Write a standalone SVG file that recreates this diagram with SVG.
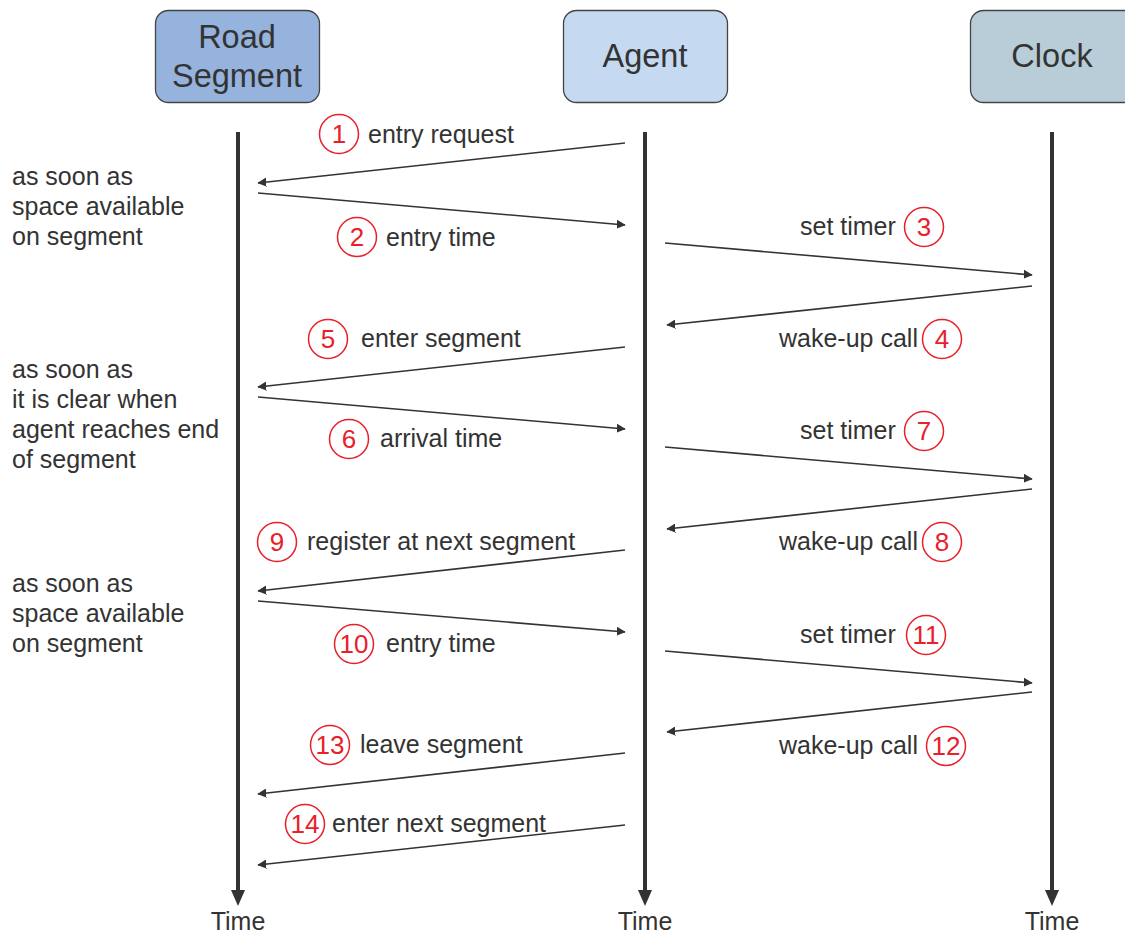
<svg xmlns="http://www.w3.org/2000/svg" width="1125" height="934" viewBox="0 0 1125 934">
<style>
.t{font-family:"Liberation Sans",Arial,sans-serif;font-size:25px;fill:#333}
.h{font-family:"Liberation Sans",Arial,sans-serif;font-size:32.5px;fill:#333;text-anchor:middle}
.n{font-family:"Liberation Sans",Arial,sans-serif;font-size:26px;fill:#e8202a;text-anchor:middle}
.c{fill:#fff;stroke:#e8202a;stroke-width:1.5}
.life{stroke:#333;stroke-width:4;fill:none}
.msg{stroke:#333;stroke-width:1.6;fill:none;marker-end:url(#a)}
.box{stroke:#444;stroke-width:1.3}
</style>
<defs>
<marker id="a" viewBox="0 0 10 10" refX="9" refY="5" markerWidth="9" markerHeight="9" markerUnits="userSpaceOnUse" orient="auto"><path d="M0,0L10,5L0,10z" fill="#333" transform="scale(1.4) translate(-3,-1.45)"/></marker>
</defs>
<g id="road-segment">
<rect class="box" x="155.5" y="10.5" width="164" height="92" rx="13" fill="#95b3dd"/>
<text class="h" x="237" y="48">Road</text>
<text class="h" x="237" y="87">Segment</text>
</g>
<g id="agent">
<rect class="box" x="563.5" y="10.5" width="164" height="92" rx="13" fill="#c5daf1"/>
<text class="h" x="645" y="67">Agent</text>
</g>
<g id="clock">
<rect class="box" x="970.5" y="10.5" width="170" height="92" rx="13" fill="#b9cdd8"/>
<text class="h" x="1052" y="67">Clock</text>
</g>
<g id="lifelines">
<line class="life" x1="238" y1="132" x2="238" y2="890"/>
<path d="M231,890L245,890L238,906z" fill="#333"/>
<line class="life" x1="645" y1="132" x2="645" y2="890"/>
<path d="M638,890L652,890L645,906z" fill="#333"/>
<line class="life" x1="1052" y1="132" x2="1052" y2="890"/>
<path d="M1045,890L1059,890L1052,906z" fill="#333"/>
<text class="t" x="238" y="930" text-anchor="middle">Time</text>
<text class="t" x="645" y="930" text-anchor="middle">Time</text>
<text class="t" x="1052" y="930" text-anchor="middle">Time</text>
</g>
<g id="connectors">
<line class="msg" x1="625" y1="143" x2="258" y2="183"/>
<line class="msg" x1="258" y1="193" x2="625" y2="225"/>
<line class="msg" x1="665" y1="243" x2="1032" y2="275"/>
<line class="msg" x1="1032" y1="286" x2="667" y2="325"/>
<line class="msg" x1="625" y1="347" x2="258" y2="387"/>
<line class="msg" x1="258" y1="397" x2="625" y2="429"/>
<line class="msg" x1="665" y1="447" x2="1032" y2="479"/>
<line class="msg" x1="1032" y1="489" x2="667" y2="529"/>
<line class="msg" x1="625" y1="550" x2="258" y2="591"/>
<line class="msg" x1="258" y1="601" x2="625" y2="632"/>
<line class="msg" x1="665" y1="651" x2="1032" y2="683"/>
<line class="msg" x1="1032" y1="692" x2="667" y2="732"/>
<line class="msg" x1="625" y1="753" x2="258" y2="794"/>
<line class="msg" x1="625" y1="825" x2="258" y2="865"/>
</g>
<g id="labels">
<circle class="c" cx="339" cy="134" r="19.5"/><text class="n" x="339" y="143">1</text>
<text class="t" x="368" y="143">entry request</text>
<circle class="c" cx="357" cy="237" r="19.5"/><text class="n" x="357" y="246">2</text>
<text class="t" x="386" y="246">entry time</text>
<text class="t" x="800" y="235">set timer</text>
<circle class="c" cx="924" cy="227" r="19.5"/><text class="n" x="924" y="236">3</text>
<text class="t" x="779" y="347">wake-up call</text>
<circle class="c" cx="942" cy="339" r="19.5"/><text class="n" x="942" y="348">4</text>
<circle class="c" cx="328" cy="339" r="19.5"/><text class="n" x="328" y="348">5</text>
<text class="t" x="361" y="347">enter segment</text>
<circle class="c" cx="349" cy="439" r="19.5"/><text class="n" x="349" y="448">6</text>
<text class="t" x="380" y="447">arrival time</text>
<text class="t" x="800" y="439">set timer</text>
<circle class="c" cx="924" cy="431" r="19.5"/><text class="n" x="924" y="440">7</text>
<text class="t" x="779" y="550">wake-up call</text>
<circle class="c" cx="942" cy="542" r="19.5"/><text class="n" x="942" y="551">8</text>
<circle class="c" cx="277" cy="542" r="19.5"/><text class="n" x="277" y="551">9</text>
<text class="t" x="307" y="550">register at next segment</text>
<circle class="c" cx="354" cy="644" r="19.5"/><text class="n" x="354" y="653">10</text>
<text class="t" x="386" y="652">entry time</text>
<text class="t" x="800" y="643">set timer</text>
<circle class="c" cx="926" cy="635" r="19.5"/><text class="n" x="926" y="644">11</text>
<text class="t" x="779" y="754">wake-up call</text>
<circle class="c" cx="946" cy="746" r="19.5"/><text class="n" x="946" y="755">12</text>
<circle class="c" cx="330" cy="745" r="19.5"/><text class="n" x="330" y="754">13</text>
<text class="t" x="360" y="753">leave segment</text>
<circle class="c" cx="305" cy="824" r="19.5"/><text class="n" x="305" y="833">14</text>
<text class="t" x="332" y="832">enter next segment</text>
</g>
<g id="notes">
<text class="t" x="12" y="185">as soon as</text>
<text class="t" x="12" y="215">space available</text>
<text class="t" x="12" y="245">on segment</text>
<text class="t" x="12" y="378">as soon as</text>
<text class="t" x="12" y="408">it is clear when</text>
<text class="t" x="12" y="438">agent reaches end</text>
<text class="t" x="12" y="468">of segment</text>
<text class="t" x="12" y="592">as soon as</text>
<text class="t" x="12" y="622">space available</text>
<text class="t" x="12" y="652">on segment</text>
</g>
</svg>
